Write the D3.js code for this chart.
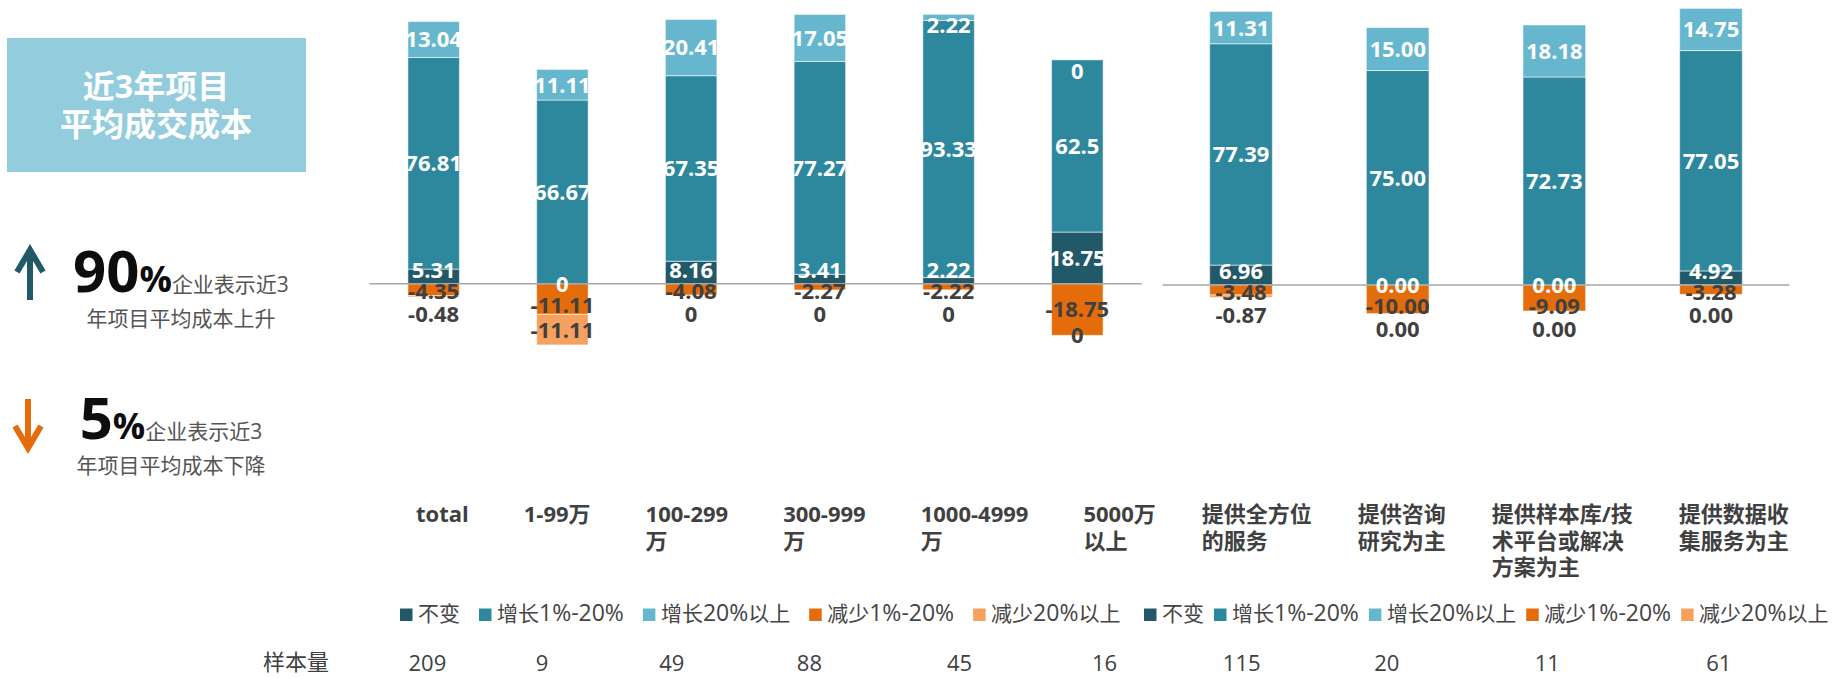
<!DOCTYPE html>
<html>
<head>
<meta charset="utf-8">
<script src="https://cdn.jsdelivr.net/npm/d3@7"></script>
<style>
  html, body { margin: 0; padding: 0; background: #fff; }
  svg { display: block; font-family: "Open Sans", "Noto Sans CJK SC", sans-serif; }
</style>
</head>
<body>
<svg id="chart" width="1833" height="678"></svg>
<script>
// ---- series definitions ----
const seriesNames  = ["不变", "增长1%-20%", "增长20%以上", "减少1%-20%", "减少20%以上"];
const seriesColors = ["#215968", "#2E889D", "#66B7CE", "#E46C0A", "#F6A25E"];

// ---- by project amount ----
const sizeCategories = ["total", "1-99万", "100-299万", "300-999万", "1000-4999万", "5000万以上"];
const sizeLabelLines = [["total"], ["1-99万"], ["100-299", "万"], ["300-999", "万"], ["1000-4999", "万"], ["5000万", "以上"]];
const sizeUnchanged  = [5.31, 0, 8.16, 3.41, 2.22, 18.75];
const sizeUpSmall    = [76.81, 66.67, 67.35, 77.27, 93.33, 62.5];
const sizeUpLarge    = [13.04, 11.11, 20.41, 17.05, 2.22, 0];
const sizeDownSmall  = [-4.35, -11.11, -4.08, -2.27, -2.22, -18.75];
const sizeDownLarge  = [-0.48, -11.11, 0, 0, 0, 0];
const sizeSamples    = [209, 9, 49, 88, 45, 16];

// ---- by company type ----
const typeCategories = ["提供全方位的服务", "提供咨询研究为主", "提供样本库/技术平台或解决方案为主", "提供数据收集服务为主"];
const typeLabelLines = [["提供全方位", "的服务"], ["提供咨询", "研究为主"], ["提供样本库/技", "术平台或解决", "方案为主"], ["提供数据收", "集服务为主"]];
const typeUnchanged  = [6.96, 0, 0, 4.92];
const typeUpSmall    = [77.39, 75.00, 72.73, 77.05];
const typeUpLarge    = [11.31, 15.00, 18.18, 14.75];
const typeDownSmall  = [-3.48, -10.00, -9.09, -3.28];
const typeDownLarge  = [-0.87, 0, 0, 0];
const typeSamples    = [115, 20, 11, 61];

const svg = d3.select("#chart");
const textDark = "#404040";

// ---- left summary panel ----
const side = svg.append("g");
side.append("rect").attr("x", 7).attr("y", 38).attr("width", 299).attr("height", 134).attr("fill", "#93CDDD");
side.append("text").attr("x", 156).attr("y", 98).attr("text-anchor", "middle")
  .attr("fill", "#fff").attr("font-size", 32).attr("font-weight", 700).text("近3年项目");
side.append("text").attr("x", 156).attr("y", 136).attr("text-anchor", "middle")
  .attr("fill", "#fff").attr("font-size", 32).attr("font-weight", 700).text("平均成交成本");

// arrows
side.append("line").attr("x1", 30).attr("y1", 300).attr("x2", 30).attr("y2", 251)
  .attr("stroke", seriesColors[0]).attr("stroke-width", 6);
side.append("path").attr("d", "M17,272 L30,250 L43,272").attr("fill", "none")
  .attr("stroke", seriesColors[0]).attr("stroke-width", 6);
side.append("line").attr("x1", 28).attr("y1", 399).attr("x2", 28).attr("y2", 448)
  .attr("stroke", seriesColors[3]).attr("stroke-width", 6);
side.append("path").attr("d", "M15,426 L28,448 L41,426").attr("fill", "none")
  .attr("stroke", seriesColors[3]).attr("stroke-width", 6);

function statLine(cx, y, big, rest, line2) {
  const t = side.append("text").attr("x", cx).attr("y", y).attr("text-anchor", "middle");
  t.append("tspan").attr("font-size", 58).attr("font-weight", 700).attr("fill", "#0D0D0D").text(big);
  t.append("tspan").attr("font-size", 36).attr("font-weight", 700).attr("fill", "#0D0D0D").text("%");
  t.append("tspan").attr("font-size", 21).attr("fill", "#555").text(rest);
  side.append("text").attr("x", cx).attr("y", y + 34).attr("text-anchor", "middle")
    .attr("font-size", 21).attr("fill", "#555").text(line2);
}
statLine(181, 292, "90", "企业表示近3", "年项目平均成本上升");
statLine(171, 439, "5", "企业表示近3", "年项目平均成本下降");

// ---- category label row: wrapped, left-aligned blocks flowing left to right ----
const labelRow = svg.append("g");
const labelCenters = [];
let flowX = 416;
function placeLabels(lines, gap) {
  lines.forEach(ls => {
    const t = labelRow.append("text").attr("y", 522)
      .attr("font-size", 22).attr("font-weight", 700).attr("fill", textDark);
    let w = 0;
    ls.forEach((ln, j) => {
      const sp = t.append("tspan").attr("x", flowX).attr("dy", j === 0 ? 0 : 26.7).text(ln);
      w = Math.max(w, sp.node().getComputedTextLength());
    });
    labelCenters.push(flowX + w / 2);
    flowX += w + gap;
  });
}
placeLabels(sizeLabelLines, 55);
flowX -= 9;
placeLabels(typeLabelLines, 46);

// ---- stacked diverging bar panel ----
function drawPanel(o) {
  const g = svg.append("g");
  const x = d3.scaleBand().domain(o.categories).range(o.xRange).paddingInner(0.6).paddingOuter(0.3);
  const y = d3.scaleLinear().domain([-40, 100]).range(o.yRange);
  const z = y(0);

  const rows = o.categories.map((c, i) => {
    let up = 0, down = 0;
    return o.series.map((s, k) => {
      const v = s[i];
      let a, b;
      if (k < 3) { a = up; b = up + v; up = b; } else { a = down; b = down + v; down = b; }
      return { c, k, v, lo: Math.min(a, b), hi: Math.max(a, b) };
    });
  });
  const segs = rows.flat();

  g.selectAll("rect.seg").data(segs.filter(d => d.hi > d.lo)).join("rect")
    .attr("class", "seg")
    .attr("x", d => x(d.c))
    .attr("width", x.bandwidth())
    .attr("y", d => y(d.hi))
    .attr("height", d => y(d.lo) - y(d.hi))
    .attr("fill", d => seriesColors[d.k])
    .attr("stroke", "#fff").attr("stroke-opacity", 0.55).attr("stroke-width", 1);

  g.append("line").attr("x1", o.xRange[0]).attr("x2", o.xRange[1]).attr("y1", z).attr("y2", z)
    .attr("stroke", "#A6A6A6").attr("stroke-width", 1.5);

  // value labels: centred in each segment, nudged clear of the axis and of each other
  rows.forEach(row => {
    const cy = [];
    row.forEach((d, k) => {
      const top = y(d.hi), bot = y(d.lo);
      let c = (top + bot) / 2;
      if (k === 0 && d.v > 0) c = Math.min(c, z - 14);
      if (k === 2) c = Math.max(c, top + 11);
      if (k === 3) c = Math.max(c, cy[0] + 21);
      if (k === 4) c = Math.max(c, cy[3] + 23);
      cy[k] = c;
      g.append("text")
        .attr("x", x(d.c) + x.bandwidth() / 2)
        .attr("y", c).attr("dy", "0.36em")
        .attr("text-anchor", "middle")
        .attr("font-size", 22).attr("font-weight", 700)
        .attr("fill", k < 3 ? "#fff" : textDark)
        .text(o.fmt(d.v));
    });
  });
}

drawPanel({
  categories: sizeCategories,
  series: [sizeUnchanged, sizeUpSmall, sizeUpLarge, sizeDownSmall, sizeDownLarge],
  xRange: [369.3, 1141.7], yRange: [393.9, 8.2],
  fmt: v => String(v)
});
drawPanel({
  categories: typeCategories,
  series: [typeUnchanged, typeUpSmall, typeUpLarge, typeDownSmall, typeDownLarge],
  xRange: [1162.7, 1789.3], yRange: [399.4, -1],
  fmt: v => v.toFixed(2)
});

// ---- legends (Latin runs set slightly larger than the CJK runs) ----
function legend(x0, gap) {
  const g = svg.append("g");
  let x = x0;
  seriesNames.forEach((name, k) => {
    g.append("rect").attr("x", x).attr("y", 608.5).attr("width", 12.5).attr("height", 12.5).attr("fill", seriesColors[k]);
    const t = g.append("text").attr("x", x + 18).attr("y", 621).attr("fill", "#444");
    (name.match(/[\u4e00-\u9fff]+|[^\u4e00-\u9fff]+/g) || []).forEach(run => {
      t.append("tspan").attr("font-size", /[\u4e00-\u9fff]/.test(run) ? 21 : 23).text(run);
    });
    x += 18 + t.node().getComputedTextLength() + gap;
  });
}
legend(400, 19);
legend(1144, 10);

// ---- sample sizes, under each category label ----
const allSamples = sizeSamples.concat(typeSamples);
svg.append("text").attr("x", 263).attr("y", 670).attr("font-size", 22).attr("fill", textDark).text("样本量");
svg.append("g").selectAll("text").data(allSamples).join("text")
  .attr("x", (d, i) => labelCenters[i] - 15).attr("y", 671).attr("text-anchor", "middle")
  .attr("font-size", 22).attr("fill", textDark)
  .text(d => d);
</script>
</body>
</html>
